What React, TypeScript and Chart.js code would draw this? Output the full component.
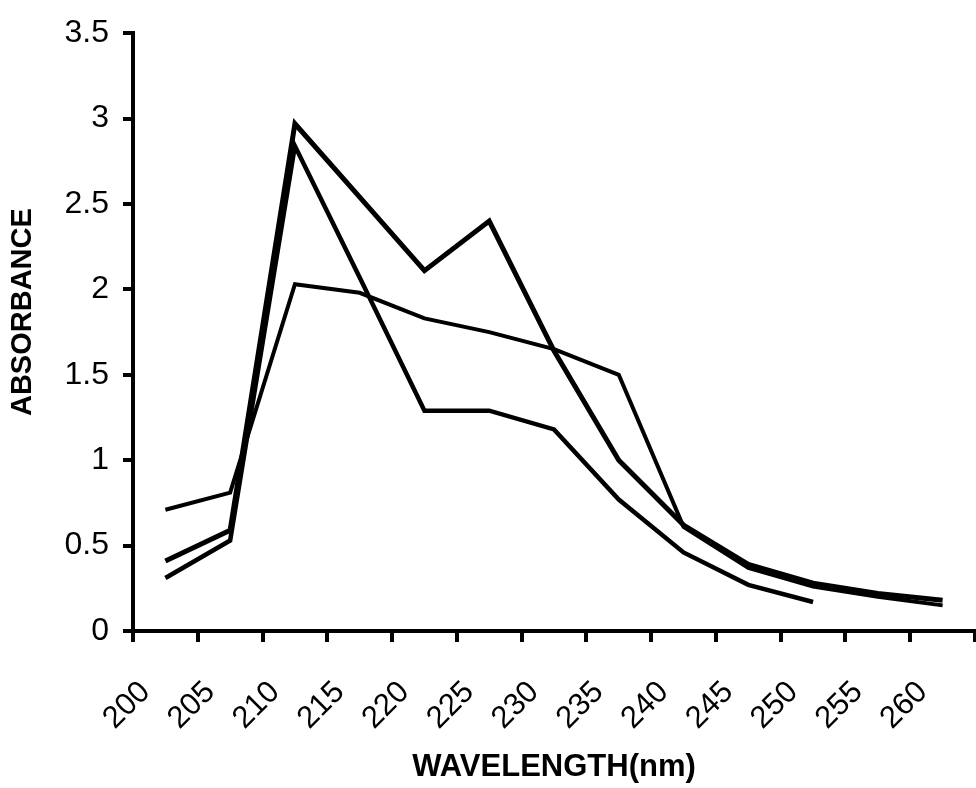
import React, { useEffect, useRef } from "react";
import { Chart, registerables } from "chart.js";

Chart.register(...registerables);

const wavelengths = ["200", "205", "210", "215", "220", "225", "230", "235", "240", "245", "250", "255", "260"];
const seriesA = [0.41, 0.59, 2.97, 2.54, 2.11, 2.40, 1.64, 1.00, 0.62, 0.39, 0.28, 0.22, 0.18];
const seriesB = [0.31, 0.53, 2.84, 2.07, 1.29, 1.29, 1.18, 0.77, 0.46, 0.27, 0.17, null, null];
const seriesC = [0.71, 0.81, 2.03, 1.98, 1.83, 1.75, 1.65, 1.50, 0.61, 0.37, 0.26, 0.20, 0.15];

const yTitle = "ABSORBANCE";
const xTitle = "WAVELENGTH(nm)";

const FONT = "'Liberation Sans', Arial, Helvetica, sans-serif";

const yTitlePlugin = {
  id: "yTitlePlugin",
  afterDraw(chart: any) {
    const ctx = chart.ctx;
    const area = chart.chartArea;
    ctx.save();
    ctx.translate(23, (area.top + area.bottom) / 2 - 20);
    ctx.rotate(-Math.PI / 2);
    ctx.fillStyle = "#000";
    ctx.textAlign = "center";
    ctx.textBaseline = "middle";
    ctx.font = `bold 29px ${FONT}`;
    ctx.fillText(yTitle, 0, 0);
    ctx.restore();
  },
};

export default function App() {
  const ref = useRef<HTMLCanvasElement | null>(null);

  useEffect(() => {
    if (!ref.current) return;
    const line = (data: (number | null)[], w: number) => ({
      data,
      borderColor: "#000",
      backgroundColor: "#000",
      borderWidth: w,
      pointRadius: 0,
      tension: 0,
      fill: false,
      spanGaps: false,
    });
    const chart = new Chart(ref.current, {
      type: "line",
      data: {
        labels: wavelengths,
        datasets: [line(seriesA, 5), line(seriesB, 4.5), line(seriesC, 4)],
      },
      plugins: [yTitlePlugin],
      options: {
        responsive: false,
        animation: false,
        layout: { padding: { top: 28, right: 1, left: 0, bottom: 0 } },
        plugins: { legend: { display: false }, tooltip: { enabled: false } },
        scales: {
          x: {
            type: "category",
            offset: true,
            afterFit: (s: any) => {
              s.height = 157;
              s.paddingLeft = 0;
              s.paddingRight = 0;
            },
            grid: {
              offset: true,
              drawOnChartArea: false,
              drawTicks: true,
              tickLength: 11,
              lineWidth: 4,
              color: "#000",
              tickColor: "#000",
            },
            border: { display: true, color: "#000", width: 4 },
            ticks: {
              autoSkip: false,
              maxRotation: 45,
              minRotation: 45,
              color: "#000",
              padding: 32,
              labelOffset: -20,
              font: { family: FONT, size: 31 },
            },
            title: {
              display: true,
              text: xTitle,
              color: "#000",
              padding: { top: 0, bottom: 2 },
              font: { family: FONT, size: 31, weight: "bold" },
            },
          },
          y: {
            min: 0,
            max: 3.5,
            afterFit: (s: any) => {
              s.width = 133;
            },
            grid: {
              drawOnChartArea: false,
              drawTicks: true,
              tickLength: 10,
              lineWidth: 4,
              color: "#000",
              tickColor: "#000",
            },
            border: { display: true, color: "#000", width: 4 },
            ticks: {
              stepSize: 0.5,
              color: "#000",
              padding: 14,
              font: { family: FONT, size: 32 },
              callback: (v: any) => String(Number(v)),
            },
            title: { display: false },
          },
        },
      },
    } as any);
    return () => chart.destroy();
  }, []);

  return (
    <canvas
      ref={ref}
      width={976}
      height={788}
      style={{ position: "absolute", left: 0, top: 0, width: 976, height: 788 }}
    />
  );
}
